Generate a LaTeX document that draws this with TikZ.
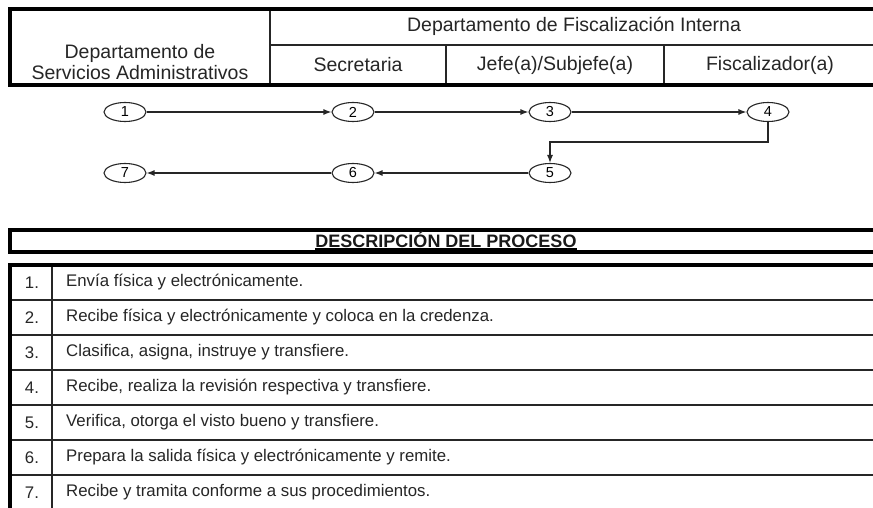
\documentclass[tikz,border=0pt]{standalone}
\usepackage{fontspec}
\setmainfont{Liberation Sans}
\usetikzlibrary{shapes.geometric,arrows.meta}
\begin{document}
\begin{tikzpicture}[x=1pt,y=-1pt,
  hdr/.style={font=\fontsize{19.5}{20.5}\selectfont, inner sep=0pt, text=black!85, align=center},
  num/.style={draw=black!85, line width=1.1pt, ellipse, minimum width=42pt, minimum height=19pt, inner sep=0pt, font=\fontsize{14.5}{14.5}\selectfont},
  arr/.style={draw=black!85, line width=1.2pt, -{Latex[length=8pt,width=6pt]}},
  heavy/.style={line width=3.5pt, draw=black},
  thin/.style={line width=1.3pt, draw=black!85},
  rowtext/.style={anchor=west, inner sep=0pt, font=\fontsize{16.8}{17}\selectfont, text=black!85},
  rownum/.style={inner sep=0pt, font=\fontsize{16.8}{17}\selectfont, text=black!85}]
\useasboundingbox (0,0) rectangle (873,508);
\fill[white] (0,0) rectangle (873,508);

% ---------- header table ----------
\draw[thin] (270,45) -- (880,45);
\draw[thin] (270,9) -- (270,85);
\draw[thin] (446,45) -- (446,85);
\draw[thin] (664,45) -- (664,85);
\draw[heavy] (880,9) -- (10,9) -- (10,85) -- (880,85);
\node[hdr] (dsa) at (140,62) {Departamento de\\Servicios Administrativos};
\node[hdr] (dfi) at (574,26.5) {Departamento de Fiscalización Interna};
\node[hdr] (sec) at (358,65) {Secretaria};
\node[hdr] (jef) at (555,65) {Jefe(a)/Subjefe(a)};
\node[hdr] (fis) at (770,65) {Fiscalizador(a)};

% ---------- flow ----------
\node[num] (n1) at (125,112) {1};
\node[num] (n2) at (353,112) {2};
\node[num] (n3) at (550,112) {3};
\node[num] (n4) at (768,112) {4};
\node[num] (n5) at (550,173) {5};
\node[num] (n6) at (353,173) {6};
\node[num] (n7) at (125,173) {7};
\coordinate (turn) at (660,142);
\draw[arr] (n1) -- (n2);
\draw[arr] (n2) -- (n3);
\draw[arr] (n3) -- (n4);
\draw[arr] (n4.south) |- (turn) -| (n5.north);
\draw[arr] (n5) -- (n6);
\draw[arr] (n6) -- (n7);

% ---------- description header ----------
\draw[heavy] (880,230) -- (10,230) -- (10,252) -- (880,252);
\node[inner sep=0pt, font=\fontsize{18}{18}\selectfont\bfseries, text=black!90] (title) at (446,239.5) {DESCRIPCIÓN DEL PROCESO};
\draw[line width=1.4pt] ([yshift=-1.6pt]title.base west) -- ([yshift=-1.6pt]title.base east);

% ---------- description table ----------
\foreach \y in {300,335,370,405,440,475} {\draw[thin] (10,\y) -- (880,\y);}
\draw[thin] (52,265) -- (52,510);
\draw[heavy] (880,265) -- (10,265) -- (10,510);

\node[rownum] (r1n) at (32,282.5) {1.};
\node[rownum] (r2n) at (32,317.5) {2.};
\node[rownum] (r3n) at (32,352.5) {3.};
\node[rownum] (r4n) at (32,387.5) {4.};
\node[rownum] (r5n) at (32,422.5) {5.};
\node[rownum] (r6n) at (32,457.5) {6.};
\node[rownum] (r7n) at (32,492.5) {7.};
\node[rowtext] (r1) at (66,282.5) {Envía física y electrónicamente.};
\node[rowtext] (r2) at (66,317.5) {Recibe física y electrónicamente y coloca en la credenza.};
\node[rowtext] (r3) at (66,352.5) {Clasifica, asigna, instruye y transfiere.};
\node[rowtext] (r4) at (66,387.5) {Recibe, realiza la revisión respectiva y transfiere.};
\node[rowtext] (r5) at (66,422.5) {Verifica, otorga el visto bueno y transfiere.};
\node[rowtext] (r6) at (66,457.5) {Prepara la salida física y electrónicamente y remite.};
\node[rowtext] (r7) at (66,492.5) {Recibe y tramita conforme a sus procedimientos.};
\end{tikzpicture}
\end{document}
